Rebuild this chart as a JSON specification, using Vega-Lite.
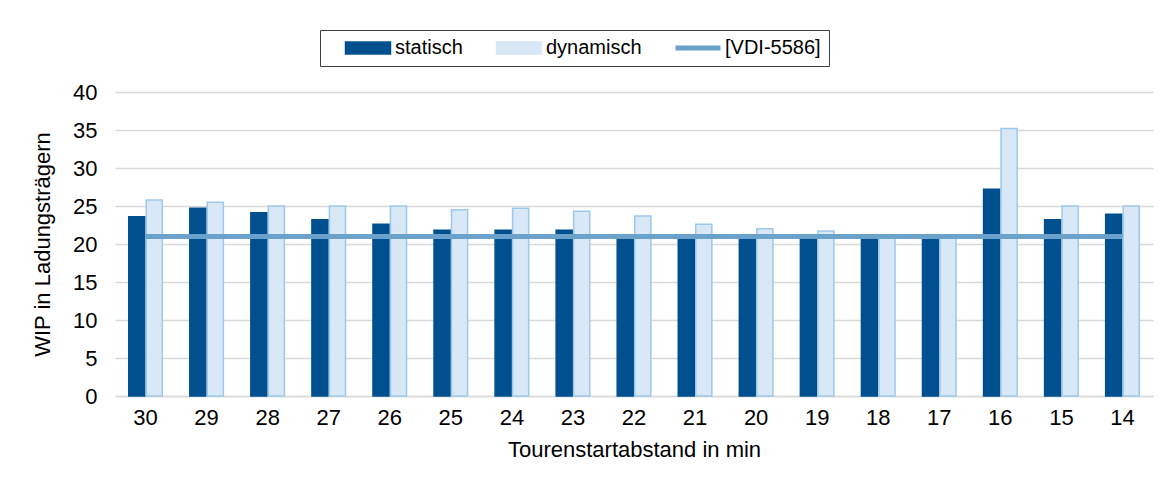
{
  "$schema": "https://vega.github.io/schema/vega-lite/v6.json",
  "width": 1038,
  "height": 304,
  "autosize": "none",
  "padding": {"left": 115, "top": 92, "right": 17, "bottom": 91},
  "background": "white",
  "config": {
    "font": "Liberation Sans",
    "view": {"stroke": null},
    "axis": {"labelFont": "Liberation Sans", "titleFont": "Liberation Sans", "labelColor": "#000000", "titleColor": "#000000", "titleFontWeight": "normal", "labelFontSize": 22, "titleFontSize": 22}
  },
  "data": {
    "values": [
      {"t": "30", "serie": "statisch", "wip": 23.6}, {"t": "30", "serie": "dynamisch", "wip": 25.8}, {"t": "30", "serie": "[VDI-5586]", "wip": 21},
      {"t": "29", "serie": "statisch", "wip": 24.7}, {"t": "29", "serie": "dynamisch", "wip": 25.5}, {"t": "29", "serie": "[VDI-5586]", "wip": 21},
      {"t": "28", "serie": "statisch", "wip": 24.1}, {"t": "28", "serie": "dynamisch", "wip": 25.0}, {"t": "28", "serie": "[VDI-5586]", "wip": 21},
      {"t": "27", "serie": "statisch", "wip": 23.2}, {"t": "27", "serie": "dynamisch", "wip": 25.0}, {"t": "27", "serie": "[VDI-5586]", "wip": 21},
      {"t": "26", "serie": "statisch", "wip": 22.6}, {"t": "26", "serie": "dynamisch", "wip": 25.0}, {"t": "26", "serie": "[VDI-5586]", "wip": 21},
      {"t": "25", "serie": "statisch", "wip": 21.8}, {"t": "25", "serie": "dynamisch", "wip": 24.5}, {"t": "25", "serie": "[VDI-5586]", "wip": 21},
      {"t": "24", "serie": "statisch", "wip": 21.8}, {"t": "24", "serie": "dynamisch", "wip": 24.7}, {"t": "24", "serie": "[VDI-5586]", "wip": 21},
      {"t": "23", "serie": "statisch", "wip": 21.8}, {"t": "23", "serie": "dynamisch", "wip": 24.3}, {"t": "23", "serie": "[VDI-5586]", "wip": 21},
      {"t": "22", "serie": "statisch", "wip": 20.6}, {"t": "22", "serie": "dynamisch", "wip": 23.7}, {"t": "22", "serie": "[VDI-5586]", "wip": 21},
      {"t": "21", "serie": "statisch", "wip": 20.6}, {"t": "21", "serie": "dynamisch", "wip": 22.6}, {"t": "21", "serie": "[VDI-5586]", "wip": 21},
      {"t": "20", "serie": "statisch", "wip": 20.6}, {"t": "20", "serie": "dynamisch", "wip": 22.0}, {"t": "20", "serie": "[VDI-5586]", "wip": 21},
      {"t": "19", "serie": "statisch", "wip": 20.6}, {"t": "19", "serie": "dynamisch", "wip": 21.7}, {"t": "19", "serie": "[VDI-5586]", "wip": 21},
      {"t": "18", "serie": "statisch", "wip": 20.6}, {"t": "18", "serie": "dynamisch", "wip": 20.9}, {"t": "18", "serie": "[VDI-5586]", "wip": 21},
      {"t": "17", "serie": "statisch", "wip": 20.6}, {"t": "17", "serie": "dynamisch", "wip": 20.9}, {"t": "17", "serie": "[VDI-5586]", "wip": 21},
      {"t": "16", "serie": "statisch", "wip": 27.2}, {"t": "16", "serie": "dynamisch", "wip": 35.2}, {"t": "16", "serie": "[VDI-5586]", "wip": 21},
      {"t": "15", "serie": "statisch", "wip": 23.2}, {"t": "15", "serie": "dynamisch", "wip": 25.0}, {"t": "15", "serie": "[VDI-5586]", "wip": 21},
      {"t": "14", "serie": "statisch", "wip": 23.9}, {"t": "14", "serie": "dynamisch", "wip": 25.0}, {"t": "14", "serie": "[VDI-5586]", "wip": 21}
    ]
  },
  "encoding": {
    "x": {
      "field": "t", "type": "nominal", "sort": null,
      "scale": {"paddingInner": 0.45, "paddingOuter": 0.225},
      "axis": {"title": "Tourenstartabstand in min", "labelAngle": 0, "ticks": false, "domainColor": "#D9D9D9", "domainWidth": 1.3, "labelPadding": 11, "titlePadding": 11}
    },
    "y": {
      "field": "wip", "type": "quantitative",
      "scale": {"domain": [0, 40]},
      "axis": {"title": "WIP in Ladungsträgern", "values": [0, 5, 10, 15, 20, 25, 30, 35, 40], "ticks": false, "domain": false, "gridColor": "#D9D9D9", "gridWidth": 1.3, "labelPadding": 18, "titlePadding": 18}
    },
    "color": {
      "field": "serie", "type": "nominal",
      "scale": {"domain": ["statisch", "dynamisch", "[VDI-5586]"], "range": ["#00508F", "#D9E8F6", "#6AA2CB"]},
      "legend": {
        "title": null,
        "orient": "none", "direction": "horizontal",
        "legendX": 205, "legendY": -62,
        "strokeColor": "#404040", "padding": 8,
        "symbolSize": 2025, "labelFontSize": 20, "labelFont": "Liberation Sans", "labelColor": "#000000",
        "symbolOffset": 30, "labelOffset": 17, "columnPadding": 16,
        "encode": {
          "symbols": {
            "update": {
              "shape": {"signal": "datum.label === '[VDI-5586]' ? 'M-1,0L1,0' : 'M-1,-0.27L1,-0.27L1,0.27L-1,0.27Z'"},
              "fill": {"signal": "datum.label === 'statisch' ? '#00508F' : datum.label === 'dynamisch' ? '#D9E8F6' : 'transparent'"},
              "stroke": {"signal": "datum.label === 'statisch' ? '#00508F' : datum.label === 'dynamisch' ? '#9DC8EB' : '#6AA2CB'"},
              "strokeWidth": {"signal": "datum.label === '[VDI-5586]' ? 5 : 1.5"},
              "opacity": {"value": 1}
            }
          }
        }
      }
    }
  },
  "layer": [
    {
      "transform": [{"filter": "datum.serie !== '[VDI-5586]'"}],
      "mark": {"type": "bar", "strokeWidth": 1.5},
      "encoding": {
        "xOffset": {"field": "serie", "type": "nominal", "sort": ["statisch", "dynamisch"], "scale": {"paddingInner": 0.08}},
        "stroke": {
          "field": "serie", "type": "nominal",
          "scale": {"domain": ["statisch", "dynamisch"], "range": ["#00508F", "#9DC8EB"]},
          "legend": null
        }
      }
    },
    {
      "transform": [{"filter": "datum.serie === '[VDI-5586]'"}],
      "mark": {"type": "line", "strokeWidth": 5, "strokeCap": "butt"},
      "encoding": {}
    }
  ]
}
